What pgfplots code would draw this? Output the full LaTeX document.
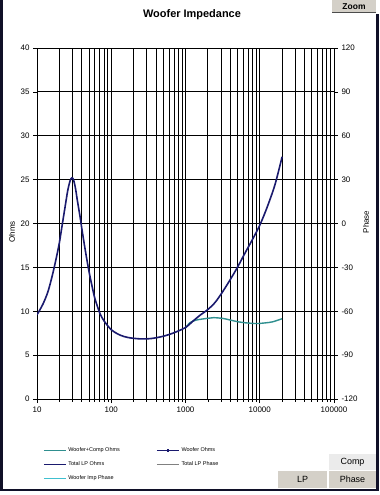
\documentclass[border=0pt]{standalone}
\usepackage{pgfplots}
\pgfplotsset{compat=1.18}
\usepackage{fontspec}
\setmainfont{Liberation Sans}
\definecolor{navy}{RGB}{26,26,110}
\definecolor{tealc}{RGB}{47,143,143}
\definecolor{cyanc}{RGB}{64,192,208}
\definecolor{btn}{RGB}{212,208,200}
\definecolor{framec}{RGB}{16,16,40}
\begin{document}
\begin{tikzpicture}[x=1bp,y=1bp]
\useasboundingbox (0,0) rectangle (379,-495);
\fill[white] (0,0) rectangle (379,-495);
\begin{axis}[at={(37bp,-399bp)}, anchor=south west, scale only axis,
  width=297bp, height=351bp,
  xmode=log, xmin=10, xmax=100000, ymin=0, ymax=40,
  xtick={10,100,1000,10000,100000}, xticklabels={10,100,1000,10000,100000},
  ytick={0,5,...,40},
  grid=both,
  major grid style={black, line width=0.8bp},
  minor grid style={black, line width=0.8bp},
  axis line style={black, line width=0.8bp},
  tick style={black, line width=0.6bp}, tick align=outside,
  major tick length=4bp, minor tick length=2.5bp,
  ytick pos=left, xtick pos=bottom,
  ticklabel style={font=\fontsize{8}{9}\selectfont},
  /pgf/number format/assume math mode=true,
  legend style={at={(0.01,-0.127)}, anchor=north west, draw=none, fill=none,
    font=\fontsize{5.5}{6}\selectfont, row sep=4.5bp,
    /tikz/every even column/.append style={column sep=2bp}},
  legend columns=2, legend cell align=left,
  legend image code/.code={\draw[mark repeat=2,mark phase=2,#1] plot coordinates {(0bp,0bp) (11bp,0bp) (22bp,0bp)};},
]
\addlegendimage{tealc, line width=1.2bp}
\addlegendentry{\makebox[84bp][l]{Woofer+Comp Ohms}}
\addlegendimage{navy, line width=1.2bp, mark=square*, mark size=0.8bp}
\addlegendentry{\makebox[60bp][l]{Woofer Ohms}}
\addlegendimage{navy, line width=1.2bp}
\addlegendentry{\makebox[84bp][l]{Total LP Ohms}}
\addlegendimage{gray, line width=1.2bp}
\addlegendentry{\makebox[60bp][l]{Total LP Phase}}
\addlegendimage{cyanc, line width=1.2bp}
\addlegendentry{\makebox[84bp][l]{Woofer Imp Phase}}
% Woofer + Comp Ohms
\addplot[forget plot, tealc, line width=1.4bp, smooth] coordinates {
(1000,8.1) (1150,8.7) (1400,9.0) (2000,9.2) (2400,9.27) (3200,9.18)
(4000,9.0) (5100,8.8) (6500,8.68) (9000,8.6) (12000,8.68) (15000,8.8) (20000,9.15)};
% Woofer Ohms
\addplot[forget plot, navy, line width=1.6bp, smooth] coordinates {
(10,9.6) (12,10.8) (14,12.2) (16,14.0) (18,15.9) (20,17.8) (22,20.0) (24,22.0)
(26,23.8) (28,24.9) (29.5,25.2) (31,25.0) (33,24.0) (35,22.6) (38,20.8) (40,19.5)
(45,16.8) (50,14.6) (55,12.9) (60,11.5) (70,9.8) (80,8.9) (100,7.9) (130,7.3)
(170,7.0) (250,6.85) (350,6.9) (500,7.15) (700,7.55) (1000,8.15) (1270,8.9)
(1600,9.6) (2000,10.2) (2500,11.0) (3150,12.2) (4000,13.6) (5000,15.0)
(6300,16.6) (8000,18.2) (10000,19.8) (12500,21.8) (16000,24.4) (20000,27.6)};
\end{axis}
\begin{axis}[at={(37bp,-399bp)}, anchor=south west, scale only axis,
  width=297bp, height=351bp,
  xmode=log, xmin=10, xmax=100000, ymin=-120, ymax=120,
  axis x line=none, axis y line*=right,
  ytick={-120,-90,...,120},
  axis line style={black, line width=0.8bp},
  tick style={black, line width=0.6bp}, tick align=outside,
  major tick length=4bp,
  ticklabel style={font=\fontsize{8}{9}\selectfont},
  /pgf/number format/assume math mode=true,
]
\end{axis}
\node[font=\bfseries\fontsize{11}{13}\selectfont] at (192,-15) {Woofer Impedance};
\node[rotate=90, font=\fontsize{8}{9}\selectfont] at (12,-232) {Ohms};
\node[rotate=90, font=\fontsize{8}{9}\selectfont] at (366,-222) {Phase};
% buttons
\fill[btn] (332,0) rectangle (376,-13);
\draw[black!70, line width=1bp] (332,-13) -- (376,-13);
\node[font=\bfseries\fontsize{8.5}{10}\selectfont] at (354,-6.5) {Zoom};
\fill[black!8] (328,-453) rectangle (377,-470);
\draw[white, line width=1bp] (328,-470) -- (328,-453) -- (377,-453);
\node[font=\fontsize{9}{10}\selectfont] at (352.5,-462) {Comp};
\fill[btn] (278,-471) rectangle (327,-487.5);
\node[font=\fontsize{9}{10}\selectfont] at (302.5,-479.5) {LP};
\fill[btn] (328.5,-471) rectangle (377,-487.5);
\node[font=\fontsize{9}{10}\selectfont] at (352.5,-479.5) {Phase};
% frame
\fill[framec] (0,0) rectangle (2.5,-491);
\fill[framec] (0,-488.5) rectangle (378.5,-491);
\fill[framec] (376,-14) rectangle (378.5,-491);
\end{tikzpicture}
\end{document}
